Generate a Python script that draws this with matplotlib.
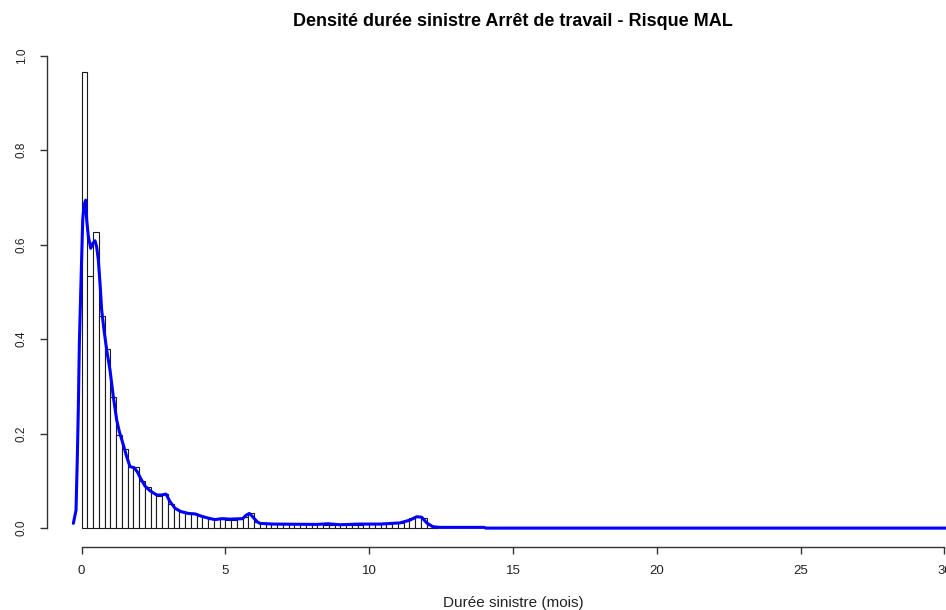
# Density of claim duration (Arret de travail - risque MAL), R-style histogram + kernel density

import numpy as np
import matplotlib.pyplot as plt

#==========================================================
# Data
#==========================================================
# histogram: bin width 0.2 month starting at 0
bin_width = 0.2
hist_dens = [0.966, 0.534, 0.626, 0.449, 0.379, 0.277, 0.197, 0.167, 0.130, 0.130,
             0.100, 0.086, 0.075, 0.068, 0.072, 0.051, 0.040, 0.036, 0.032, 0.031,
             0.026, 0.023, 0.020, 0.019, 0.020, 0.018, 0.018, 0.019, 0.024, 0.032,
             0.013, 0.010, 0.009, 0.009, 0.009, 0.008, 0.008, 0.008, 0.008, 0.008,
             0.009, 0.008, 0.007, 0.007, 0.008, 0.008, 0.007, 0.007, 0.007, 0.008,
             0.008, 0.008, 0.009, 0.009, 0.010, 0.011, 0.015, 0.021, 0.026, 0.022,
             0.006, 0.002]

# kernel density estimate (blue curve)
dens_x = [-0.284, -0.191, -0.145, -0.110, -0.075, -0.029, 0.006, 0.041, 0.087, 0.145,
          0.180, 0.238, 0.319, 0.388, 0.469, 0.527, 0.585, 0.643, 0.701, 0.782,
          0.875, 0.991, 1.106, 1.222, 1.315, 1.454, 1.570, 1.686, 1.825, 1.941,
          2.057, 2.207, 2.381, 2.613, 2.787, 2.937, 3.076, 3.250, 3.447, 3.713,
          3.945, 4.177, 4.408, 4.640, 4.872, 5.162, 5.602, 5.718, 5.834, 5.950,
          6.112, 6.204, 6.668, 8.174, 8.580, 8.985, 9.620, 10.375, 11.070, 11.420,
          11.650, 11.825, 12.000, 12.210, 12.460, 14.000, 14.050, 31.500]
dens_y = [0.010, 0.038, 0.151, 0.257, 0.391, 0.497, 0.574, 0.652, 0.684, 0.694,
          0.652, 0.617, 0.592, 0.602, 0.608, 0.595, 0.567, 0.518, 0.461, 0.419,
          0.377, 0.334, 0.278, 0.229, 0.204, 0.176, 0.151, 0.130, 0.128, 0.119,
          0.105, 0.089, 0.079, 0.070, 0.070, 0.072, 0.056, 0.042, 0.035, 0.031,
          0.030, 0.025, 0.021, 0.018, 0.020, 0.019, 0.020, 0.027, 0.031, 0.024,
          0.013, 0.010, 0.0085, 0.0078, 0.0092, 0.0071, 0.0085, 0.0085, 0.011, 0.017,
          0.024, 0.023, 0.011, 0.003, 0.0015, 0.0015, 0.0, 0.0]

x_ticks = [0, 5, 10, 15, 20, 25, 30]
y_ticks = [0.0, 0.2, 0.4, 0.6, 0.8, 1.0]

#==========================================================
# plot
#==========================================================
plt.rcParams['font.family'] = ['Liberation Sans', 'DejaVu Sans']

fig = plt.figure(figsize=(9.46, 6.10), dpi=100)
# plot region extends past the right border (the original is cropped)
ax = fig.add_axes([47/946, 63/610, 932/946, 510.4/610])

edges = np.arange(len(hist_dens)) * bin_width
ax.bar(edges, hist_dens, width=bin_width, align='edge',
       facecolor='white', edgecolor='#1a1a1a', linewidth=0.8, zorder=2)

ax.plot(dens_x, dens_y, color='blue', linewidth=2.2, zorder=3,
        solid_joinstyle='round', solid_capstyle='round')

ax.set_xlim(-1.2, 31.2)
ax.set_ylim(-0.04, 1.04)

for s in ['top', 'right']:
    ax.spines[s].set_visible(False)
ax.spines['left'].set_bounds(0, 1)
ax.spines['bottom'].set_bounds(0, 30)
for s in ['left', 'bottom']:
    ax.spines[s].set_color('#333333')
    ax.spines[s].set_linewidth(1.0)

ax.set_xticks(x_ticks)
ax.set_yticks(y_ticks)
ax.set_yticklabels(['%.1f' % v for v in y_ticks])
ax.tick_params(axis='both', direction='out', length=5, width=1.0,
               color='#333333', labelcolor='#222222')
ax.tick_params(axis='x', pad=8, labelsize=9.5)
ax.tick_params(axis='y', pad=9, labelsize=8.5, labelrotation=90)
for lab in ax.get_yticklabels():
    lab.set_verticalalignment('center')

fig.text(513/946, 1-21/610, 'Densité durée sinistre Arrêt de travail - Risque MAL',
         ha='center', va='center', fontsize=13, fontweight='bold')
fig.text(513/946, 1-603/610, 'Durée sinistre (mois)',
         ha='center', va='center', fontsize=11, color='#222222')

plt.savefig('out.png', dpi=100)
plt.close()
